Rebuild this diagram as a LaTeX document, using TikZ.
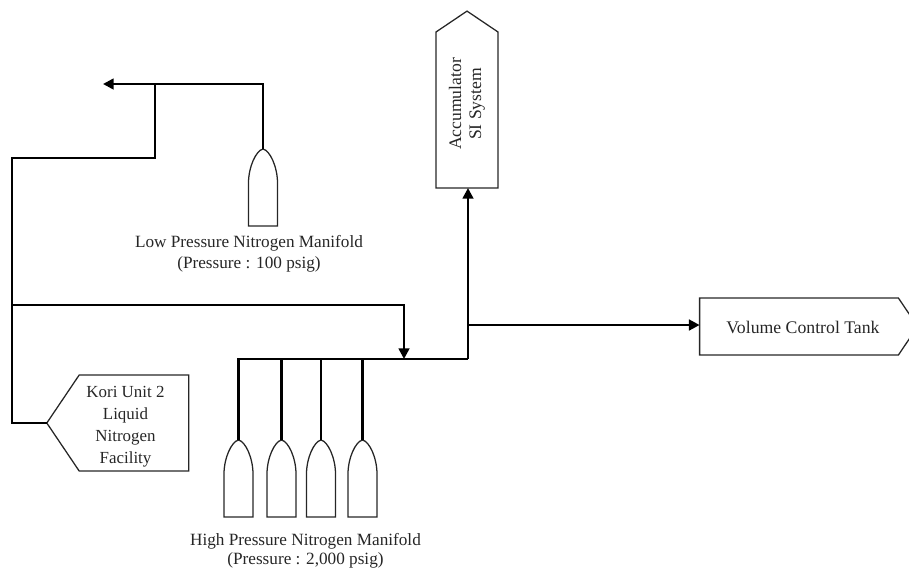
\documentclass[tikz,border=0pt]{standalone}
\usepackage{fontspec}
\setmainfont{Liberation Serif}
\usetikzlibrary{arrows.meta, shapes.symbols, positioning}

\begin{document}
\begin{tikzpicture}[
  x=0.75pt, y=-0.75pt,
  caption/.style = {align=center, inner sep=0pt, text=black!85},
  tagbox/.style  = {signal, draw=black!85, line width=0.95pt, inner sep=0pt,
                    outer sep=0pt, signal pointer angle=112},
  tank/.style    = {minimum width=21.75pt, minimum height=57.75pt, inner sep=0pt,
                    outer sep=0pt,
                    append after command={\pgfextra{
                      \draw[draw=black!85, line width=0.95pt]
                        (\tikzlastnode.south west) -- +(0,-43)
                        .. controls +(0,-16) and +(-7,1.5) .. (\tikzlastnode.north)
                        .. controls +(7,1.5) and +(0,-16) .. ([yshift=3.4pt]\tikzlastnode.east)
                        -- (\tikzlastnode.south east) -- cycle;}}},
  pipe/.style    = {line width=1.9pt, draw=black},
  arrow/.style   = {-{Triangle[length=8pt, width=8pt]}, pipe}
]
\clip (0,0) rectangle (909,569);

% tanks
\node[tank] (lowtank) at (263,187.5) {};
\node[tank] (hightanka) at (238.5,478.5) {};
\node[tank] (hightankb) at (281.5,478.5) {};
\node[tank] (hightankc) at (321,478.5) {};
\node[tank] (hightankd) at (362.5,478.5) {};

% facilities
\node[tagbox, signal to=north, minimum width=46.5pt,
      minimum height=117pt] (accum) at (467,110) {};
\node[tagbox, signal to=west, minimum width=106.5pt,
      minimum height=72pt] (kori) at (134,423) {};
\node[tagbox, signal to=east, minimum width=163.5pt,
      minimum height=42.75pt] (vct) at (799,326.5) {};

% captions
\node[caption, rotate=90, font=\fontsize{13.2}{15}\selectfont] (accumtext) at (467,104) {Accumulator\\SI System};
\node[caption, font=\fontsize{12.7}{16.5}\selectfont] (koritext) at (125.5,426.5) {Kori Unit 2\\Liquid\\Nitrogen\\Facility};
\node[caption, font=\fontsize{13.3}{16}\selectfont] (vcttext) at (803,327) {Volume Control Tank};
\node[caption, font=\fontsize{12.9}{15.5}\selectfont] (lowtext) at (249,254) {Low Pressure Nitrogen Manifold\\(Pressure : 100 psig)};
\node[caption, font=\fontsize{12.9}{14.6}\selectfont] (hightext) at (305.5,551) {High Pressure Nitrogen Manifold\\(Pressure : 2,000 psig)};

% pipe junctions
\coordinate (lowend) at (103,84);
\coordinate (lowtee) at (155,84);
\coordinate (lowdrop) at (155,158);
\coordinate (leftup) at (12,158);
\coordinate (leftmid) at (12,305);
\coordinate (headstart) at (238.5,359);
\coordinate (headdrop) at (404,359);
\coordinate (headend) at (468,359);
\coordinate (vcttee) at (468,325);

\draw[arrow] (lowtank.north) |- (lowend);
\draw[pipe] (lowtee) -- (lowdrop) -- (leftup) -- (kori.west -| leftup) -- (kori.west);
\draw[arrow] (leftmid) -| (headdrop);
\draw[pipe] (hightanka.north) -- (headstart) -- (headend);
\draw[pipe] (hightankb.north) -- (hightankb.north |- headstart);
\draw[pipe] (hightankc.north) -- (hightankc.north |- headstart);
\draw[pipe] (hightankd.north) -- (hightankd.north |- headstart);
\draw[arrow] (headend) -- (accum.south -| headend);
\draw[arrow] (vcttee) -- (vct.west |- vcttee);

\end{tikzpicture}
\end{document}
